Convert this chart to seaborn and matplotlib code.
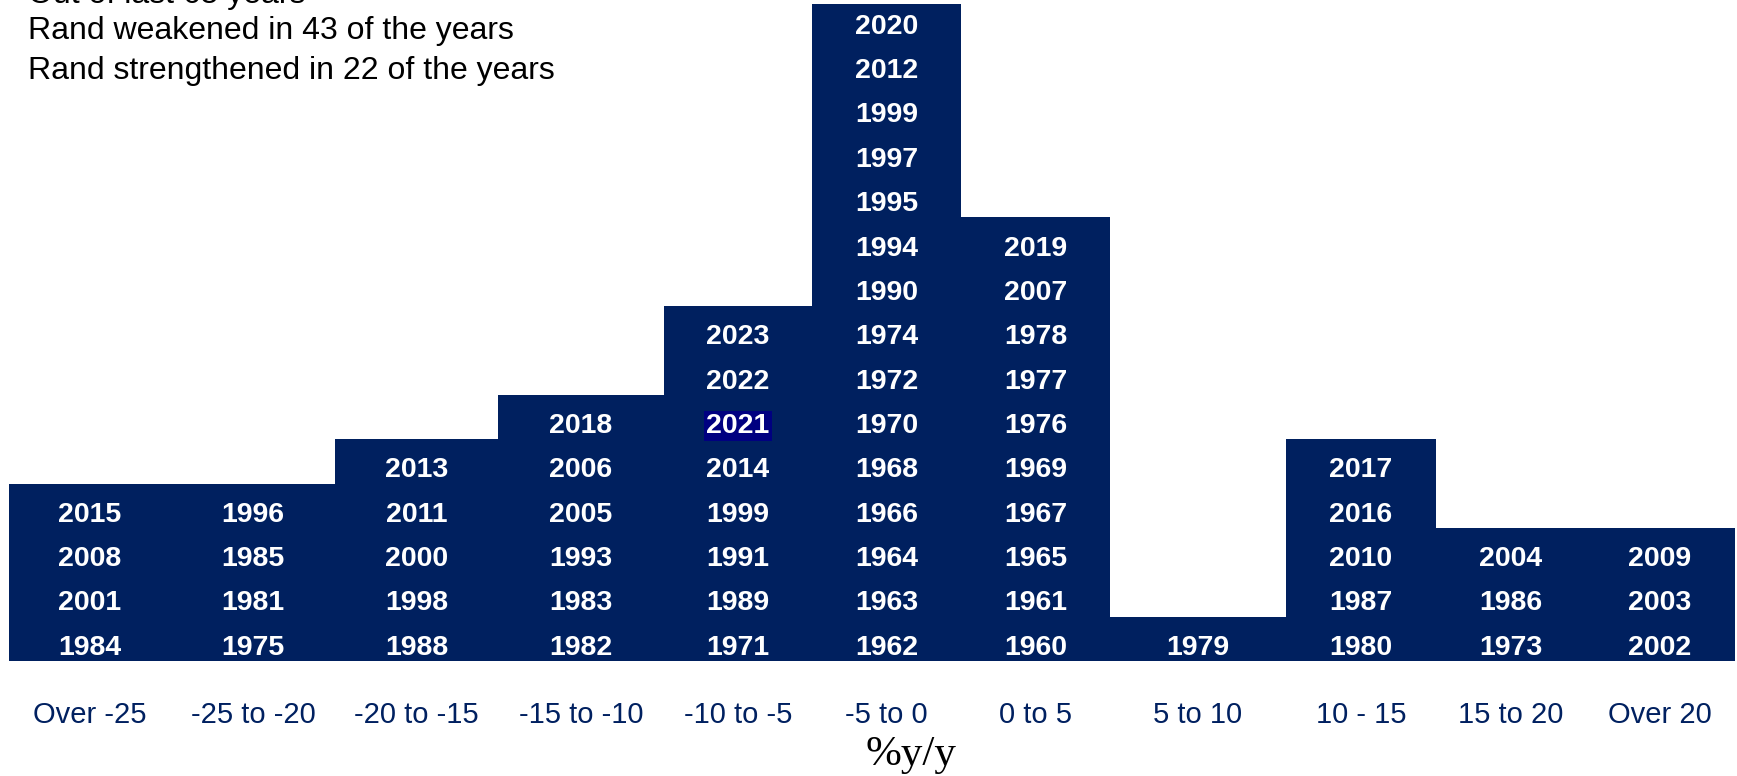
import numpy as np
import matplotlib
matplotlib.use("Agg")
import matplotlib.pyplot as plt
import seaborn as sns

sns.set_theme(style="white")
plt.rcParams['font.family'] = ['Liberation Sans', 'DejaVu Sans']

# bins of rand % change y/y, and the years that fell in each (bottom to top)
bin_labels = ['Over -25', '-25 to -20', '-20 to -15', '-15 to -10', '-10 to -5',
              '-5 to 0', '0 to 5', '5 to 10', '10 - 15', '15 to 20', 'Over 20']
years_over_m25 = [1984, 2001, 2008, 2015]
years_m25_m20 = [1975, 1981, 1985, 1996]
years_m20_m15 = [1988, 1998, 2000, 2011, 2013]
years_m15_m10 = [1982, 1983, 1993, 2005, 2006, 2018]
years_m10_m5 = [1971, 1989, 1991, 1999, 2014, 2021, 2022, 2023]
years_m5_0 = [1962, 1963, 1964, 1966, 1968, 1970, 1972, 1974, 1990, 1994,
              1995, 1997, 1999, 2012, 2020]
years_0_5 = [1960, 1961, 1965, 1967, 1969, 1976, 1977, 1978, 2007, 2019]
years_5_10 = [1979]
years_10_15 = [1980, 1987, 2010, 2016, 2017]
years_15_20 = [1973, 1986, 2004]
years_over_20 = [2002, 2003, 2009]
highlight_year = 2021

notes = ['Out of last 65 years',
         'Rand weakened in 43 of the years',
         'Rand strengthened in 22 of the years']

all_years = [years_over_m25, years_m25_m20, years_m20_m15, years_m15_m10,
             years_m10_m5, years_m5_0, years_0_5, years_5_10, years_10_15,
             years_15_20, years_over_20]

# layout: column edges (pixels, like the original table)
col_edges = [9, 171, 335, 498, 664, 812, 961, 1110, 1286, 1436, 1585, 1735]
centres = [(a + b) / 2 for a, b in zip(col_edges[:-1], col_edges[1:])]
note_y = [-5, 31, 71]  # pixel centres from the top; first line runs off the top

navy = '#00205f'

fig = plt.figure(figsize=(17.37, 7.76), dpi=100)
ax = fig.add_axes([9 / 1737, 115 / 776, 1726 / 1737, 657 / 776])

xs = [centres[i] for i, yrs in enumerate(all_years) for _ in yrs]
sns.histplot(x=xs, bins=col_edges, color=navy, alpha=1, linewidth=0, ax=ax)

for i, yrs in enumerate(all_years):
    for j, yr in enumerate(yrs):
        kw = {}
        if yr == highlight_year and i == 4:
            kw['bbox'] = dict(boxstyle='square,pad=0.08', fc='#000080', ec='none')
        ax.text(centres[i], j + 0.14, str(yr), ha='center', va='baseline',
                color='white', fontsize=20.5, fontweight='bold', **kw)

ax.set_xlim(col_edges[0], col_edges[-1])
ax.set_ylim(0, 14.81)
ax.set_xticks(centres)
ax.set_xticklabels(bin_labels, fontsize=21, color='#002060')
ax.tick_params(axis='x', length=0, pad=29)
ax.set_yticks([])
ax.set_xlabel('')
ax.set_ylabel('')
for s in ax.spines.values():
    s.set_visible(False)
ax.patch.set_alpha(0)

fig.text(911 / 1737, 1 - 755 / 776, '%y/y', ha='center', va='center',
         fontsize=31, family='Liberation Serif', color='black')

for line, yp in zip(notes, note_y):
    fig.text(28 / 1737, 1 - yp / 776, line, ha='left', va='center',
             fontsize=23, color='black')

fig.savefig('out.png', dpi=100)
